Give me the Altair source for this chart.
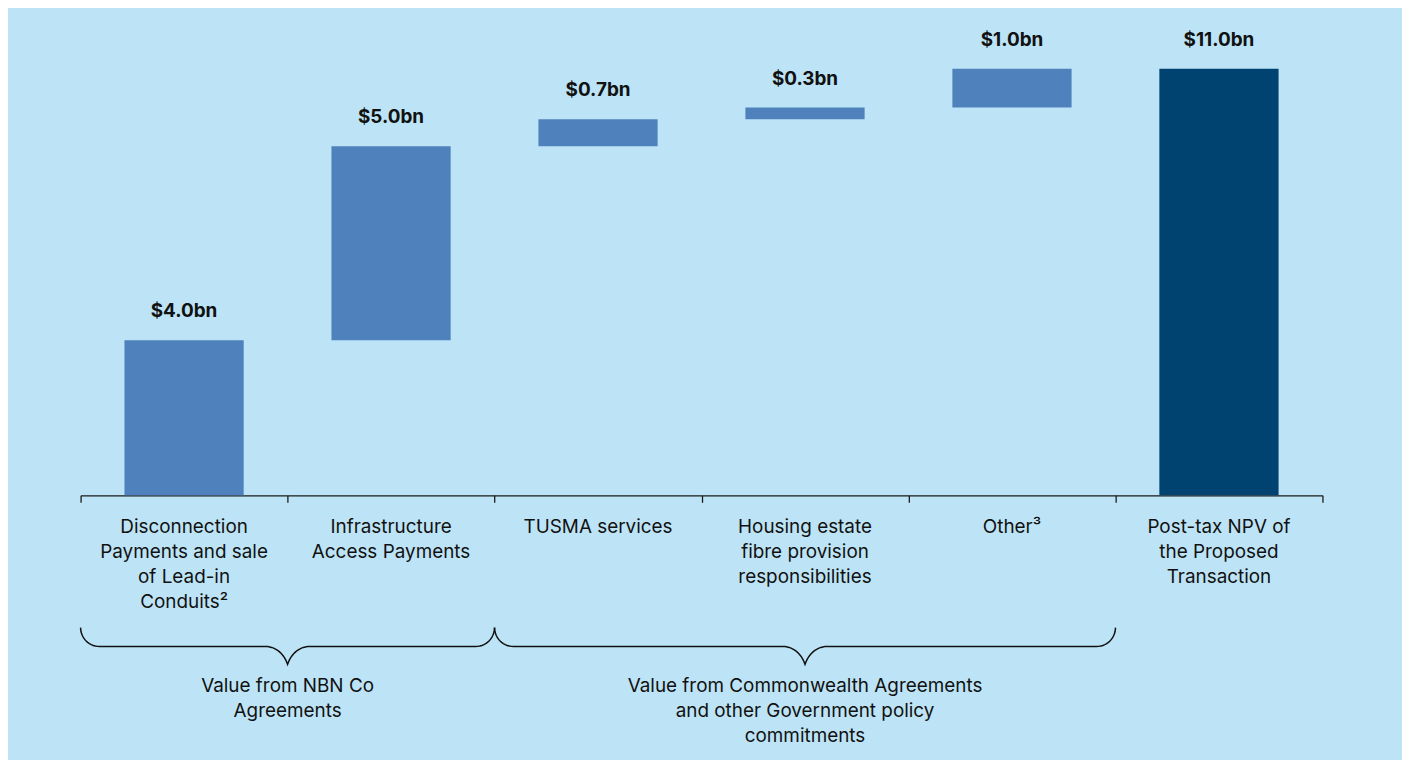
import math
import altair as alt
import pandas as pd

# ---------------- data ----------------
categories = [
    "Disconnection\nPayments and sale\nof Lead-in\nConduits\u00b2",
    "Infrastructure\nAccess Payments",
    "TUSMA services",
    "Housing estate\nfibre provision\nresponsibilities",
    "Other\u00b3",
    "Post-tax NPV of\nthe Proposed\nTransaction",
]
values = [4.0, 5.0, 0.7, 0.3, 1.0, 11.0]
value_labels = ["$4.0bn", "$5.0bn", "$0.7bn", "$0.3bn", "$1.0bn", "$11.0bn"]
kinds = ["delta", "delta", "delta", "delta", "delta", "total"]

group_labels = [
    "Value from NBN Co\nAgreements",
    "Value from Commonwealth Agreements\nand other Government policy\ncommitments",
]
group_first = [0, 2]   # index of first category in group
group_last = [1, 4]    # index of last category in group

# ---------------- layout / style ----------------
W, H = 1249, 468
PAD = {"left": 73, "top": 20, "right": 80, "bottom": 264}
BG = "#bde4f6"
BAR = "#4f82bd"
TOTAL = "#004371"
FONT = "Inter"
HALF = 0.288  # half bar width in band units

# ---------------- build tables ----------------
rows = []
run = 0.0
for i, (c, v, lab, k) in enumerate(zip(categories, values, value_labels, kinds)):
    if k == "total":
        start, end = 0.0, v
    else:
        start, end = run, run + v
        run = end
    rows.append({"i": i, "cat": c, "start": start, "end": end, "label": lab,
                 "kind": k, "x0": i + 0.5 - HALF, "x1": i + 0.5 + HALF, "xc": i + 0.5})
df = pd.DataFrame(rows)

# brace geometry (pixel offsets relative to plot area)
band_px = W / len(categories)
Y_H = 620   # horizontal part
Y_TIP = 638  # downward tip
Y_HOOK = 601  # end hooks
R_END = 19
R_MID = 22
TMAX = math.pi / 2.6
brace_rows = []
for g, (a, b) in enumerate(zip(group_first, group_last)):
    xa, xb = float(a), float(b + 1)
    xm = (xa + xb) / 2
    pts = []
    n = 14
    for k in range(n + 1):
        t = k / n * math.pi / 2
        pts.append((xa + R_END * (1 - math.cos(t)) / band_px, Y_HOOK + (Y_H - Y_HOOK) * math.sin(t)))
    for k in range(n + 1):
        t = k / n * TMAX
        pts.append((xm - (R_MID - R_MID * math.sin(t) / math.sin(TMAX)) / band_px,
                    Y_H + (Y_TIP - Y_H) * (1 - math.cos(t)) / (1 - math.cos(TMAX))))
    for k in range(n, -1, -1):
        t = k / n * TMAX
        pts.append((xm + (R_MID - R_MID * math.sin(t) / math.sin(TMAX)) / band_px,
                    Y_H + (Y_TIP - Y_H) * (1 - math.cos(t)) / (1 - math.cos(TMAX))))
    for k in range(n, -1, -1):
        t = k / n * math.pi / 2
        pts.append((xb - R_END * (1 - math.cos(t)) / band_px, Y_HOOK + (Y_H - Y_HOOK) * math.sin(t)))
    for j, (px, py) in enumerate(pts):
        brace_rows.append({"g": g, "o": j, "bx": px, "by": py})
brace_df = pd.DataFrame(brace_rows)

grp_df = pd.DataFrame({
    "label": group_labels,
    "gx": [(a + b + 1) / 2 for a, b in zip(group_first, group_last)],
})

xscale = alt.Scale(domain=[0, len(categories)], nice=False, zero=False)
yscale = alt.Scale(domain=[0, 12], nice=False)

xaxis = alt.Axis(values=list(range(len(categories) + 1)), labels=False, title=None, grid=False,
                 tickSize=7, tickColor="#1a1a1a", tickWidth=1.3, domainColor="#1a1a1a",
                 domainWidth=1.3)

base = alt.Chart(df)

bars = base.mark_bar().encode(
    x=alt.X("x0:Q", scale=xscale, axis=xaxis),
    x2="x1",
    y=alt.Y("start:Q", scale=yscale, axis=None),
    y2="end",
    color=alt.Color("kind:N", scale=alt.Scale(domain=["delta", "total"], range=[BAR, TOTAL]), legend=None),
)

vlabels = base.mark_text(font=FONT, fontSize=19, fontWeight="bold", color="#111111",
                         baseline="middle", dy=-29).encode(
    x=alt.X("xc:Q", scale=xscale, axis=xaxis),
    y=alt.Y("end:Q", scale=yscale, axis=None),
    text="label:N",
)

clabels = base.mark_text(font=FONT, fontSize=19, color="#111111", baseline="top",
                         lineBreak="\n", lineHeight=25).encode(
    x=alt.X("xc:Q", scale=xscale, axis=xaxis),
    y=alt.value(H + 23),
    text="cat:N",
)

braces = alt.Chart(brace_df).mark_line(color="#111111", strokeWidth=1.5).encode(
    x=alt.X("bx:Q", scale=xscale, axis=xaxis),
    y=alt.Y("by:Q", scale=None, axis=None),
    detail="g:N",
    order="o:Q",
)

glabels = alt.Chart(grp_df).mark_text(font=FONT, fontSize=19, color="#111111", baseline="top",
                                      lineBreak="\n", lineHeight=25).encode(
    x=alt.X("gx:Q", scale=xscale, axis=xaxis),
    y=alt.value(H + 183),
    text="label:N",
)

chart = alt.layer(bars, vlabels, clabels, braces, glabels).resolve_scale(
    y="independent"
).properties(
    width=W, height=H, padding=PAD, autosize=alt.AutoSizeParams(type="none"),
    background=BG,
).configure_view(stroke=None)

chart.save("out.html", embed_options={"renderer": "svg", "actions": False})
